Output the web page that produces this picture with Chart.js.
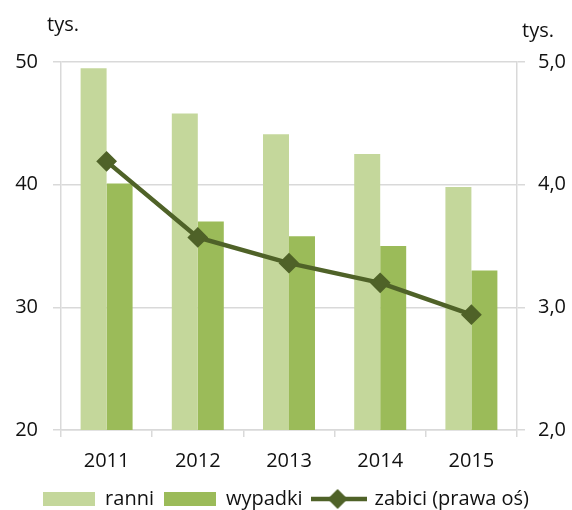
<!DOCTYPE html>
<html>
<head>
<meta charset="utf-8">
<script src="https://cdn.jsdelivr.net/npm/chart.js@4.4.0/dist/chart.umd.min.js"></script>
<style>
  html, body { margin: 0; padding: 0; background: #fff; }
</style>
</head>
<body>
<canvas id="accidentsChart" width="572" height="510"></canvas>
<script>
const years = ['2011', '2012', '2013', '2014', '2015'];
const ranni = [49.5, 45.8, 44.1, 42.5, 39.8];
const wypadki = [40.1, 37.0, 35.8, 35.0, 33.0];
const zabici = [4.19, 3.57, 3.36, 3.20, 2.94];
const leftTicks = ['20', '30', '40', '50'];
const rightTicks = ['2,0', '3,0', '4,0', '5,0'];

const lightGreen = '#C4D79B';
const midGreen = '#9BBB59';
const darkGreen = '#4F6228';
const gridColor = '#D9D9D9';
const textColor = '#111111';
const fontFamily = '"Open Sans", sans-serif';

// legend symbols drawn as small canvases
function boxSymbol(color) {
  const c = document.createElement('canvas');
  c.width = 52;
  c.height = 30;
  const g = c.getContext('2d');
  g.fillStyle = color;
  g.fillRect(0, 8, 52, 14);
  return c;
}

function lineSymbol(color) {
  const c = document.createElement('canvas');
  c.width = 56;
  c.height = 24;
  const g = c.getContext('2d');
  g.strokeStyle = color;
  g.lineWidth = 4.5;
  g.beginPath();
  g.moveTo(0, 12);
  g.lineTo(56, 12);
  g.stroke();
  g.fillStyle = color;
  g.beginPath();
  g.moveTo(27, 2);
  g.lineTo(37, 12);
  g.lineTo(27, 22);
  g.lineTo(17, 12);
  g.closePath();
  g.fill();
  return c;
}

const unitLabels = {
  id: 'unitLabels',
  afterDraw(chart) {
    const ctx = chart.ctx;
    const area = chart.chartArea;
    ctx.save();
    ctx.fillStyle = textColor;
    ctx.font = '20px ' + fontFamily;
    ctx.textBaseline = 'alphabetic';
    ctx.textAlign = 'left';
    ctx.fillText('tys.', area.left - 14, 31);
    ctx.fillText('tys.', area.right + 5, 37);
    ctx.restore();
  }
};

const ctx = document.getElementById('accidentsChart').getContext('2d');
const accidentsChart = new Chart(ctx, {
  data: {
    labels: years,
    datasets: [
      {
        type: 'bar',
        label: 'ranni',
        data: ranni,
        backgroundColor: lightGreen,
        yAxisID: 'y',
        order: 1,
        categoryPercentage: 0.57,
        barPercentage: 1.0
      },
      {
        type: 'bar',
        label: 'wypadki',
        data: wypadki,
        backgroundColor: midGreen,
        yAxisID: 'y',
        order: 1,
        categoryPercentage: 0.57,
        barPercentage: 1.0
      },
      {
        type: 'line',
        label: 'zabici (prawa oś)',
        data: zabici,
        borderColor: darkGreen,
        backgroundColor: darkGreen,
        borderWidth: 4.5,
        pointStyle: 'rectRot',
        pointRadius: 9,
        pointBorderWidth: 2,
        pointBackgroundColor: darkGreen,
        pointBorderColor: darkGreen,
        yAxisID: 'y1',
        order: 0,
        tension: 0
      }
    ]
  },
  options: {
    responsive: false,
    animation: false,
    layout: {
      padding: { top: 62, left: 0, right: 0, bottom: -9 }
    },
    scales: {
      x: {
        offset: true,
        grid: {
          offset: true,
          drawOnChartArea: false,
          drawTicks: true,
          tickLength: 7,
          color: gridColor,
          lineWidth: 1.5
        },
        border: { color: gridColor, width: 1.5 },
        ticks: {
          color: textColor,
          padding: 12,
          font: { family: fontFamily, size: 20 }
        },
        afterFit(scale) { scale.height = 49; }
      },
      y: {
        position: 'left',
        min: 20,
        max: 50,
        ticks: {
          stepSize: 10,
          color: textColor,
          padding: 15,
          font: { family: fontFamily, size: 20 },
          callback: function (value, index) {
            return leftTicks[index];
          }
        },
        grid: {
          color: gridColor,
          lineWidth: 1.5,
          tickLength: 8
        },
        border: { color: gridColor, width: 1.5 },
        afterFit(scale) { scale.width = 61; }
      },
      y1: {
        position: 'right',
        min: 2,
        max: 5,
        ticks: {
          stepSize: 1,
          color: textColor,
          padding: 13,
          font: { family: fontFamily, size: 20 },
          callback: function (value, index) {
            return rightTicks[index];
          }
        },
        grid: {
          drawOnChartArea: false,
          color: gridColor,
          lineWidth: 1.5,
          tickLength: 8
        },
        border: { color: gridColor, width: 1.5 },
        afterFit(scale) { scale.width = 55; }
      }
    },
    plugins: {
      tooltip: { enabled: false },
      legend: {
        display: true,
        position: 'bottom',
        labels: {
          usePointStyle: true,
          pointStyleWidth: 52,
          padding: 10,
          color: textColor,
          font: { family: fontFamily, size: 20 },
          generateLabels: function () {
            return [
              { text: 'ranni', pointStyle: boxSymbol(lightGreen), fillStyle: lightGreen, strokeStyle: lightGreen, lineWidth: 0, hidden: false, datasetIndex: 0, fontColor: textColor },
              { text: 'wypadki', pointStyle: boxSymbol(midGreen), fillStyle: midGreen, strokeStyle: midGreen, lineWidth: 0, hidden: false, datasetIndex: 1, fontColor: textColor },
              { text: 'zabici (prawa oś)', pointStyle: lineSymbol(darkGreen), fillStyle: darkGreen, strokeStyle: darkGreen, lineWidth: 0, hidden: false, datasetIndex: 2, fontColor: textColor }
            ];
          }
        }
      }
    }
  },
  plugins: [unitLabels]
});
</script>
</body>
</html>
